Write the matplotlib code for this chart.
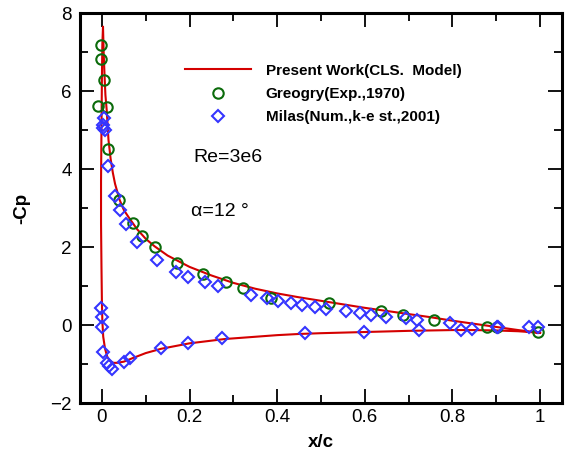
import matplotlib
matplotlib.use('Agg')
from matplotlib import pyplot as plt
from matplotlib.ticker import MultipleLocator

plt.rcParams['font.family'] = ['Liberation Sans', 'DejaVu Sans']

# Present work curve: lower surface (TE -> LE) then upper surface (LE -> TE)
line_x = [1.0, 0.95, 0.9, 0.85, 0.8, 0.7, 0.6, 0.5, 0.45, 0.4, 0.34, 0.28, 0.2, 0.135,
          0.1, 0.07, 0.05, 0.035, 0.026, 0.018, 0.012, 0.007, 0.003, 0.001, 0.0, -0.001,
          -0.002, -0.002, -0.001, 0.0, 0.001, 0.0025,
          0.004, 0.006, 0.008, 0.011, 0.015, 0.02, 0.025, 0.03, 0.04, 0.05, 0.06,
          0.07, 0.08, 0.1, 0.12, 0.15, 0.2, 0.25, 0.3, 0.35, 0.4, 0.45, 0.5, 0.55,
          0.6, 0.65, 0.7, 0.75, 0.8, 0.85, 0.9, 0.95, 1.0]
line_cp = [-0.2, -0.16, -0.14, -0.13, -0.13, -0.15, -0.18, -0.21, -0.23, -0.26, -0.31, -0.36, -0.47, -0.61,
           -0.72, -0.85, -0.94, -0.97, -0.97, -0.92, -0.81, -0.6, -0.3, 0.1, 0.6, 1.5,
           2.6, 3.7, 5.0, 6.3, 7.2, 7.65,
           7.0, 6.4, 5.9, 5.5, 4.75, 4.25, 3.9, 3.62, 3.22, 2.95, 2.78,
           2.62, 2.46, 2.21, 2.02, 1.78, 1.49, 1.27, 1.08, 0.93, 0.81, 0.71, 0.62, 0.53,
           0.44, 0.36, 0.28, 0.2, 0.11, 0.03, -0.05, -0.13, -0.2]

# Gregory experiment
greg_x = [-0.003, -0.002, 0.005, -0.008, 0.012, 0.014, 0.039, 0.071, 0.092, 0.122,
          0.171, 0.231, 0.283, 0.322, 0.387, 0.519, 0.636, 0.686, 0.757, 0.878,
          0.902, 0.995]
greg_cp = [7.17, 6.82, 6.27, 5.62, 5.58, 4.5, 3.2, 2.62, 2.27, 2.01,
           1.6, 1.32, 1.11, 0.94, 0.68, 0.57, 0.36, 0.26, 0.13, -0.04,
           -0.04, -0.17]

# Milas numerical
milas_x = [0.005, 0.003, 0.006, 0.002, 0.015, 0.031, 0.041, 0.056, 0.080, 0.126,
           0.169, 0.196, 0.236, 0.266, 0.341, 0.377, 0.402, 0.432, 0.457, 0.487,
           0.512, 0.557, 0.589, 0.614, 0.648, 0.693, 0.719, 0.723, 0.794, 0.819,
           0.844, 0.902, 0.905, 0.974, 0.995,
           -0.001, 0.0, 0.0, 0.003, 0.011, 0.017, 0.024, 0.050, 0.063, 0.135,
           0.196, 0.275, 0.463, 0.597]
milas_cp = [5.3, 5.12, 5.0, 5.05, 4.08, 3.31, 2.95, 2.58, 2.14, 1.67,
            1.37, 1.24, 1.09, 1.0, 0.77, 0.68, 0.62, 0.57, 0.51, 0.47,
            0.41, 0.36, 0.32, 0.26, 0.2, 0.17, 0.13, -0.13, 0.04, -0.13,
            -0.09, -0.04, -0.06, -0.04, -0.04,
            0.44, 0.21, -0.04, -0.68, -0.97, -1.05, -1.12, -0.94, -0.85, -0.6,
            -0.47, -0.34, -0.21, -0.17]

W, H = 566, 461
fig = plt.figure(figsize=(W / 100, H / 100), dpi=100)
ax = fig.add_axes([80 / W, 1 - 403 / H, (562 - 80) / W, (403 - 13) / H])

ax.plot(line_x, line_cp, color='#d40000', lw=1.5, label='Present Work(CLS.  Model)', zorder=2)
ax.plot(greg_x, greg_cp, 'o', mfc='none', mec='#0b6b0b', mew=1.5, ms=7.5,
        label='Greogry(Exp.,1970)', zorder=3)
ax.plot(milas_x, milas_cp, 'D', mfc='none', mec='#3535ff', mew=1.5, ms=6,
        label='Milas(Num.,k-e st.,2001)', zorder=3)

ax.set_xlim(-0.05, 1.05)
ax.set_ylim(-2, 8)
ax.xaxis.set_major_locator(MultipleLocator(0.2))
ax.xaxis.set_minor_locator(MultipleLocator(0.1))
ax.yaxis.set_major_locator(MultipleLocator(2))
ax.yaxis.set_minor_locator(MultipleLocator(1))
ax.tick_params(which='both', direction='in', top=True, right=True, width=1.3, labelsize=13.5)
ax.tick_params(which='major', length=10)
ax.tick_params(which='minor', length=5.5)
ax.tick_params(axis='y', pad=6)
ax.tick_params(axis='x', pad=4)
ax.set_xticks([0, 0.2, 0.4, 0.6, 0.8, 1.0])
ax.set_xticklabels(['0', '0.2', '0.4', '0.6', '0.8', '1'])
for s in ax.spines.values():
    s.set_linewidth(2.2)

ax.set_xlabel('x/c', fontsize=13.5, fontweight='bold', labelpad=6)
ax.set_ylabel('-Cp', fontsize=13.5, fontweight='bold', labelpad=14)

ax.text(193 / W, 1 - 158 / H, 'Re=3e6', fontsize=14, transform=fig.transFigure, va='center')
ax.text(191 / W, 1 - 211 / H, 'α=12 °', fontsize=14, transform=fig.transFigure, va='center')

leg = ax.legend(loc='upper left', bbox_to_anchor=(0.19, 0.905), frameon=False,
                handlelength=4.3, handletextpad=0.95, labelspacing=0.6,
                prop={'weight': 'bold', 'size': 11})

fig.savefig('out.png', dpi=100)
